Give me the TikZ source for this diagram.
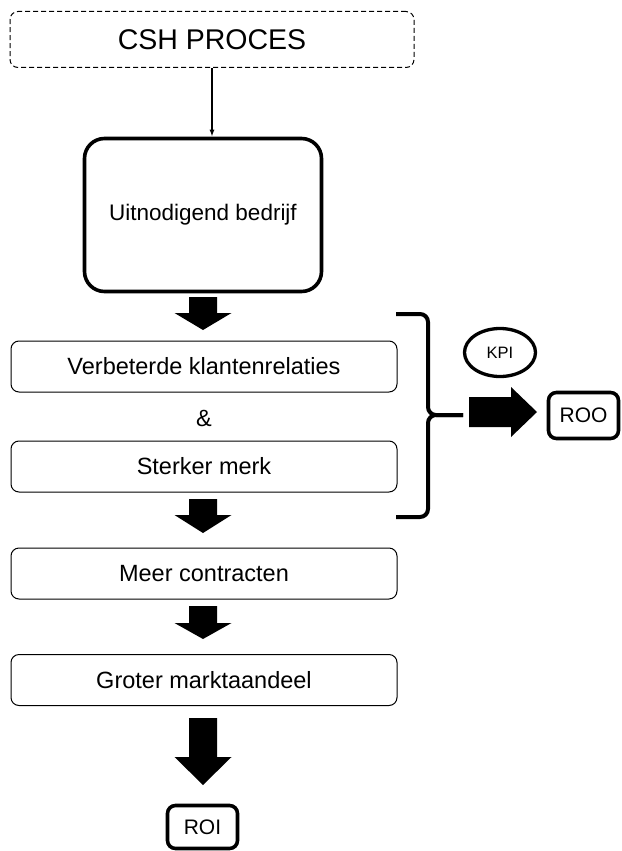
\documentclass[tikz,border=0pt]{standalone}
\usepackage{fontspec}
\setmainfont{Liberation Sans}
\usetikzlibrary{arrows.meta, shapes.geometric, positioning}

% filled block arrow pointing down: x, top, head start, tip
\newcommand{\blockdown}[4]{%
  \fill (#1-14,#2) -- (#1+14,#2) -- (#1+14,#3) -- (#1+28.5,#3)
    -- (#1,#4) -- (#1-28.5,#3) -- (#1-14,#3) -- cycle;}

\begin{document}
\begin{tikzpicture}[
    x=1pt, y=-1pt,
    header/.style={draw, dashed, dash pattern=on 5pt off 3pt, line width=1pt, rounded corners=8pt,
      minimum width=404pt, minimum height=56pt, font={\fontsize{28.5}{32}\selectfont}},
    company/.style={draw, line width=3.6pt, rounded corners=20pt,
      minimum width=237pt, minimum height=153pt, font={\fontsize{22.5}{26}\selectfont}},
    effect/.style={draw, line width=1pt, rounded corners=8pt,
      minimum width=386pt, minimum height=51pt, font={\fontsize{23.5}{28}\selectfont}},
    result/.style={draw, line width=3.6pt, rounded corners=8pt,
      inner sep=0pt, font={\fontsize{21}{24}\selectfont}},
    kpi/.style={draw, ellipse, line width=3.3pt, inner sep=0pt,
      minimum width=71pt, minimum height=48pt, font={\fontsize{16.5}{19}\selectfont}},
    brace/.style={line width=4pt, rounded corners=8pt},
    link/.style={-{Latex[length=7pt,width=5pt]}, line width=1.4pt}
]

\useasboundingbox (0,0) rectangle (621,851);

\node[header] (csh) at (212, 39.5) {CSH PROCES};
\node[company] (uit) at (203, 215) {Uitnodigend bedrijf};

\node[effect] (klant) at (204, 366.5) {Verbeterde klantenrelaties};
\node[font={\fontsize{23.5}{28}\selectfont}] (amp) at (204, 418) {\&};
\node[effect] (merk) at (204, 466.5) {Sterker merk};
\node[effect] (meer) at (204, 573.5) {Meer contracten};
\node[effect] (groter) at (204, 680) {Groter marktaandeel};

\node[result, minimum width=70pt, minimum height=43pt] (roi) at (202.5, 827) {ROI};
\node[kpi] (kpi) at (500, 352.5) {KPI};
\node[result, minimum width=70pt, minimum height=46pt] (roo) at (583.5, 415.5) {ROO};

\draw[link] (csh.south) -- (csh.south |- uit.north);

\blockdown{203}{297}{313}{330}
\blockdown{203}{499}{515}{533}
\blockdown{203}{606}{623}{639}
\blockdown{203}{718}{757}{785}

% bracket round the two effects
\draw[brace] (396,314) -- (428,314) -- (428,415) -- (463,415);
\draw[brace] (396,517) -- (428,517) -- (428,415) -- (463,415);

\fill (469,397) -- (511,397) -- (511,387) -- (537,412)
  -- (511,437) -- (511,427) -- (469,427) -- cycle;

\end{tikzpicture}
\end{document}
